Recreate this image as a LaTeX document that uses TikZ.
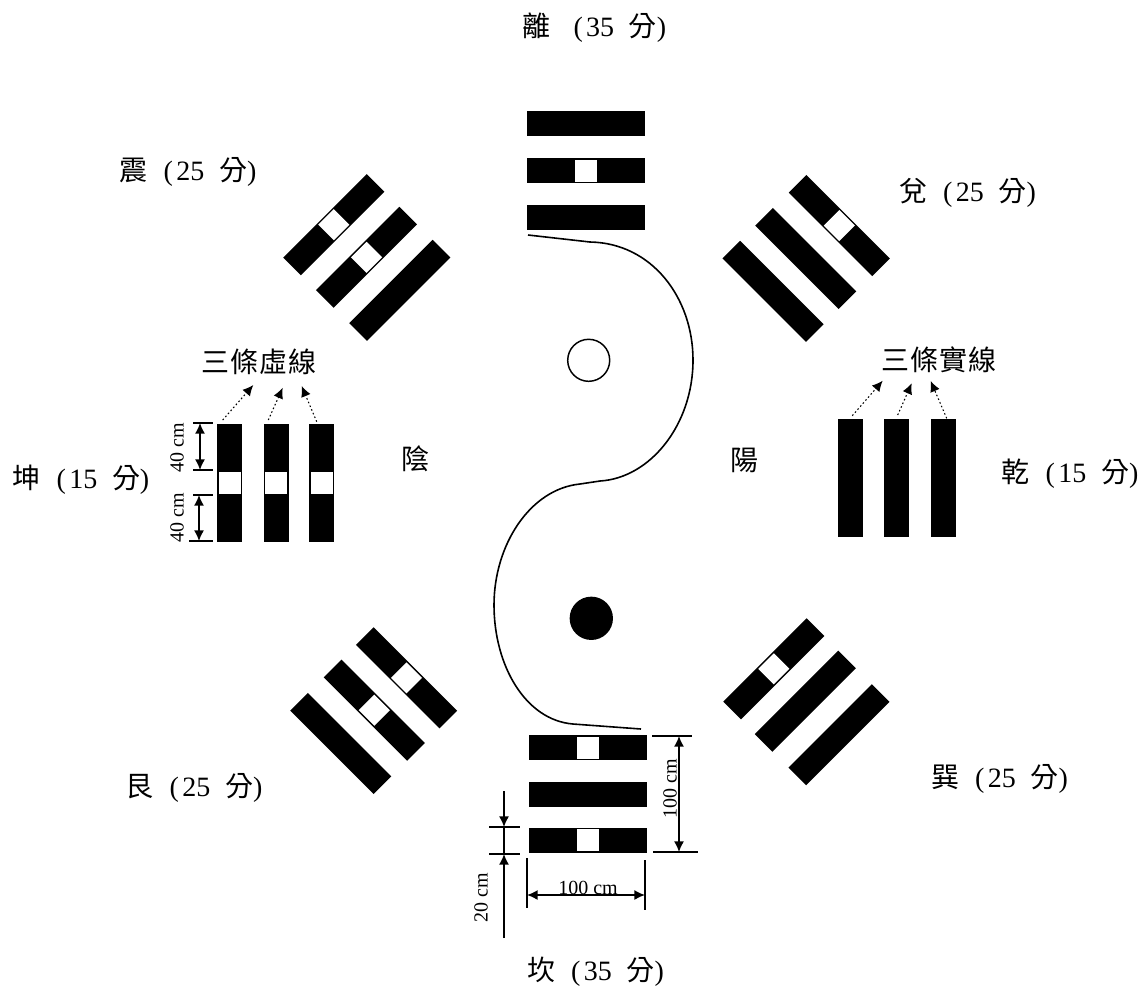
\documentclass[tikz,border=0pt]{standalone}
\usepackage{fontspec}
\setmainfont{Liberation Serif}
\newfontfamily\cjk{Noto Sans CJK TC}
\usetikzlibrary{arrows.meta}
\newcommand{\scorelab}[3][12pt]{{\fontsize{21}{24}\selectfont{\cjk #2}\hspace{#1}(\hspace{2.5pt}#3\hspace{11pt}{\cjk 分})}}
\newcommand{\cjkspaced}[4]{{\cjk #1\hspace{1pt}#2\hspace{1pt}#3\hspace{1pt}#4}}
\tikzset{
  barsolid/.style={fill=black,draw=none,inner sep=0pt,minimum width=88.5pt,minimum height=18.75pt},
  bargap/.style={fill=white,draw=none,inner sep=0pt,minimum width=16.5pt,minimum height=16.5pt},
  scorelabel/.style={inner sep=0pt},
  biglabel/.style={inner sep=0pt,font=\fontsize{21}{24}\selectfont\cjk},
  noteLabel/.style={inner sep=0pt,font=\fontsize{21}{24}\selectfont},
  dimlabel/.style={inner sep=0pt,font=\fontsize{15}{16}\selectfont},
  dimline/.style={line width=1pt},
  dimarrow/.style={line width=1.1pt,{Latex[length=8pt,width=7.5pt]}-{Latex[length=8pt,width=7.5pt]}},
  singlearrow/.style={line width=1.1pt,-{Latex[length=8pt,width=7.5pt]}},
  dotarrow/.style={line width=0.8pt,dash pattern=on 1.2pt off 1.8pt,-{Latex[length=8pt,width=7.5pt]}},
  wave/.style={line width=1.2pt},
  dot/.style={circle,inner sep=0pt,minimum size=32.5pt},
}
\begin{document}
\begin{tikzpicture}[x=0.75pt,y=-0.75pt]
\useasboundingbox (0,0) rectangle (1148,990);
% Li (top)
\node[barsolid] (li1) at (586,123.5) {};
\node[barsolid] (li2) at (586,170.5) {};
\node[barsolid] (li3) at (586,217.5) {};
\node[bargap] (li2g) at (li2) {};
% Kan (bottom)
\node[barsolid] (kan1) at (588,747.5) {};
\node[barsolid] (kan2) at (588,794.5) {};
\node[barsolid] (kan3) at (588,840) {};
\node[bargap] (kan1g) at (kan1) {};
\node[bargap] (kan3g) at (kan3) {};
% Kun (left)
\node[barsolid,rotate=90] (kun1) at (229.5,482.5) {};
\node[barsolid,rotate=90] (kun2) at (276,482.5) {};
\node[barsolid,rotate=90] (kun3) at (321.5,482.5) {};
\node[bargap,rotate=90] (kun1g) at (kun1) {};
\node[bargap,rotate=90] (kun2g) at (kun2) {};
\node[bargap,rotate=90] (kun3g) at (kun3) {};
% Qian (right)
\node[barsolid,rotate=90] (qian1) at (850.5,478) {};
\node[barsolid,rotate=90] (qian2) at (896,478) {};
\node[barsolid,rotate=90] (qian3) at (943,478) {};
% Zhen (upper left)
\node[barsolid,rotate=45] (zhen1) at (333.8,224.7) {};
\node[barsolid,rotate=45] (zhen2) at (366.5,257.3) {};
\node[barsolid,rotate=45] (zhen3) at (399.8,290.3) {};
\node[bargap,rotate=45] (zhen1g) at (zhen1) {};
\node[bargap,rotate=45] (zhen2g) at (zhen2) {};
% Dui (upper right)
\node[barsolid,rotate=-45] (dui1) at (839.3,225.5) {};
\node[barsolid,rotate=-45] (dui2) at (805.7,258.5) {};
\node[barsolid,rotate=-45] (dui3) at (773,291.3) {};
\node[bargap,rotate=-45] (dui1g) at (dui1) {};
% Gen (lower left)
\node[barsolid,rotate=-45] (gen1) at (406.5,677.8) {};
\node[barsolid,rotate=-45] (gen2) at (374.3,710.2) {};
\node[barsolid,rotate=-45] (gen3) at (340.7,743.5) {};
\node[bargap,rotate=-45] (gen1g) at (gen1) {};
\node[bargap,rotate=-45] (gen2g) at (gen2) {};
% Xun (lower right)
\node[barsolid,rotate=45] (xun1) at (773.8,668.8) {};
\node[barsolid,rotate=45] (xun2) at (805.3,701.2) {};
\node[barsolid,rotate=45] (xun3) at (839,734.7) {};
\node[bargap,rotate=45] (xun1g) at (xun1) {};
% yin-yang curve and eyes
\draw[wave] (528,235) -- (590,242)
  .. controls (652,243) and (693,298) .. (693,360)
  .. controls (693,425) and (650,478) .. (600,481)
  -- (580,484)
  .. controls (530,489) and (494,545) .. (494,605)
  .. controls (494,665) and (525,720) .. (573,724)
  -- (641,729);
\node[dot,draw=black,line width=1.1pt,minimum size=31.5pt] (eyeY) at (588.7,360.3) {};
\node[dot,fill=black] (eyeB) at (591.3,618.3) {};
% score labels
\node[scorelabel] (lLi) at (594.5,28) {\scorelab[17pt]{離}{35}};
\node[scorelabel] (lZhen) at (188,172) {\scorelab{震}{25}};
\node[scorelabel] (lDui) at (967.5,193) {\scorelab{兌}{25}};
\node[scorelabel] (lKun) at (81,480) {\scorelab{坤}{15}};
\node[scorelabel] (lQian) at (1070,474) {\scorelab{乾}{15}};
\node[scorelabel] (lXun) at (999.5,779) {\scorelab{巽}{25}};
\node[scorelabel] (lGen) at (194,788) {\scorelab{艮}{25}};
\node[scorelabel] (lKan) at (595.5,972) {\scorelab{坎}{35}};
\node[biglabel] (lYin) at (415,459) {陰};
\node[biglabel] (lYang) at (744,460) {陽};
\node[noteLabel] (nDash) at (259,362) {\cjkspaced{三}{條}{虛}{線}};
\node[noteLabel] (nSolid) at (939,360) {\cjkspaced{三}{條}{實}{線}};
% dotted arrows
\coordinate (kunA1) at (222.7,420); \coordinate (kunB1) at (253.3,385);
\coordinate (kunA2) at (268.3,420); \coordinate (kunB2) at (282.7,387.7);
\coordinate (kunA3) at (316.7,421.7); \coordinate (kunB3) at (301.7,386);
\coordinate (qianA1) at (852.3,415.7); \coordinate (qianB1) at (882.7,380.7);
\coordinate (qianA2) at (897.7,415); \coordinate (qianB2) at (911.7,383.3);
\coordinate (qianA3) at (946.7,418.3); \coordinate (qianB3) at (930.7,381);
\foreach \s/\n in {kun/1,kun/2,kun/3,qian/1,qian/2,qian/3}{
  \draw[dotarrow] (\s A\n) -- (\s B\n);
}
% dimensions: kun
\coordinate (ka1) at (193,423); \coordinate (ka2) at (213,423);
\coordinate (kb1) at (193,470); \coordinate (kb2) at (213,470);
\coordinate (kc1) at (193,495); \coordinate (kc2) at (213,495);
\coordinate (kd1) at (189,541); \coordinate (kd2) at (213,541);
\coordinate (kam) at (200,423); \coordinate (kbm) at (200,470);
\coordinate (kcm) at (199,495); \coordinate (kdm) at (199,541);
\draw[dimline] (ka1) -- (ka2);
\draw[dimline] (kb1) -- (kb2);
\draw[dimline] (kc1) -- (kc2);
\draw[dimline] (kd1) -- (kd2);
\draw[dimarrow] (kam) -- (kbm);
\draw[dimarrow] (kcm) -- (kdm);
\node[dimlabel,rotate=90] (d40a) at (177,448) {40 cm};
\node[dimlabel,rotate=90] (d40b) at (177,518) {40 cm};
% dimensions: kan right
\coordinate (ra1) at (652,736); \coordinate (ra2) at (692,736);
\coordinate (rb1) at (653,852); \coordinate (rb2) at (698,852);
\coordinate (ram) at (679,736); \coordinate (rbm) at (679,852);
\draw[dimline] (ra1) -- (ra2);
\draw[dimline] (rb1) -- (rb2);
\draw[dimarrow] (ram) -- (rbm);
\node[dimlabel,rotate=90] (d100v) at (670,789) {100 cm};
% dimensions: kan left
\coordinate (la1) at (489,827); \coordinate (la2) at (520,827);
\coordinate (lb1) at (489,854); \coordinate (lb2) at (520,854);
\coordinate (lt) at (504,791); \coordinate (lam) at (504,827);
\coordinate (lbm) at (504,854); \coordinate (lbot) at (504,938);
\draw[dimline] (la1) -- (la2);
\draw[dimline] (lb1) -- (lb2);
\draw[dimline] (lam) -- (lbm);
\draw[singlearrow] (lt) -- (lam);
\draw[singlearrow] (lbot) -- (lbm);
\node[dimlabel,rotate=90] (d20) at (481,898) {20 cm};
% dimensions: kan width
\coordinate (wl1) at (527,858); \coordinate (wl2) at (527,908);
\coordinate (wr1) at (645,860); \coordinate (wr2) at (645,910);
\coordinate (wlm) at (527,895); \coordinate (wrm) at (645,895);
\draw[dimline] (wl1) -- (wl2);
\draw[dimline] (wr1) -- (wr2);
\draw[dimarrow] (wlm) -- (wrm);
\node[dimlabel] (d100h) at (588,888) {100 cm};
\end{tikzpicture}
\end{document}
